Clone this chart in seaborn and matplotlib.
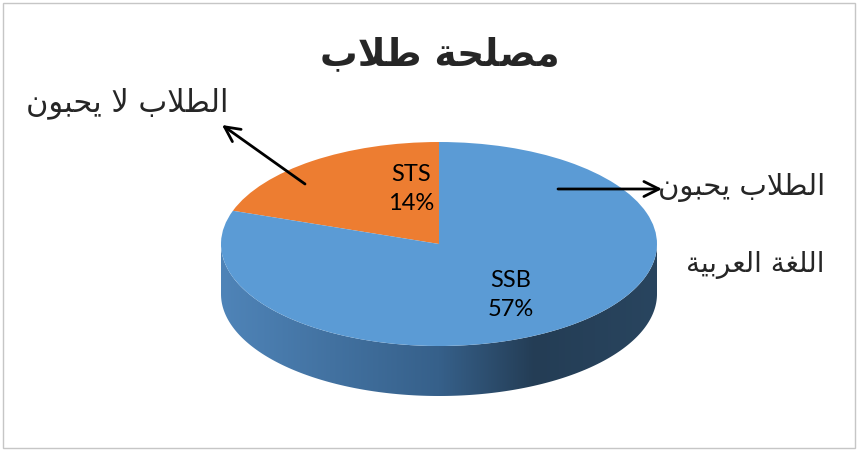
import numpy as np
import matplotlib
matplotlib.use("Agg")
import matplotlib.pyplot as plt
import seaborn as sns
from matplotlib.patches import Polygon, Rectangle
from matplotlib.colors import LinearSegmentedColormap

# ---------------- data ----------------
categories = ["STS", "SSB"]
values = [14, 57]
pct_labels = ["14%", "57%"]
title_text = "مصلحة طلاب"
left_note = "الطلاب لا يحبون"
right_note_1 = "الطلاب يحبون"
right_note_2 = "اللغة العربية"

# ---------------- minimal Arabic shaping (presentation forms) ----------------
FORMS = {
    'ا': ('\uFE8D', '\uFE8E', None, None),
    'ب': ('\uFE8F', '\uFE90', '\uFE91', '\uFE92'),
    'ة': ('\uFE93', '\uFE94', None, None),
    'ح': ('\uFEA1', '\uFEA2', '\uFEA3', '\uFEA4'),
    'ر': ('\uFEAD', '\uFEAE', None, None),
    'ص': ('\uFEB9', '\uFEBA', '\uFEBB', '\uFEBC'),
    'ط': ('\uFEC1', '\uFEC2', '\uFEC3', '\uFEC4'),
    'ع': ('\uFEC9', '\uFECA', '\uFECB', '\uFECC'),
    'غ': ('\uFECD', '\uFECE', '\uFECF', '\uFED0'),
    'ل': ('\uFEDD', '\uFEDE', '\uFEDF', '\uFEE0'),
    'م': ('\uFEE1', '\uFEE2', '\uFEE3', '\uFEE4'),
    'ن': ('\uFEE5', '\uFEE6', '\uFEE7', '\uFEE8'),
    'و': ('\uFEED', '\uFEEE', None, None),
    'ي': ('\uFEF1', '\uFEF2', '\uFEF3', '\uFEF4'),
    'لا': ('\uFEFB', '\uFEFC', None, None),
}


def shape(s):
    toks = []
    i = 0
    while i < len(s):
        if s[i] == 'ل' and i + 1 < len(s) and s[i + 1] == 'ا':
            toks.append('لا')
            i += 2
        else:
            toks.append(s[i])
            i += 1
    out = []
    for k, t in enumerate(toks):
        if t not in FORMS:
            out.append(t)
            continue
        prev = toks[k - 1] if k > 0 else None
        nxt = toks[k + 1] if k + 1 < len(toks) else None
        jp = prev in FORMS and FORMS[prev][2] is not None
        jn = FORMS[t][2] is not None and nxt in FORMS
        iso, fin, ini, med = FORMS[t]
        if jp and jn:
            out.append(med)
        elif jp:
            out.append(fin)
        elif jn:
            out.append(ini)
        else:
            out.append(iso)
    return ''.join(out[::-1])


# ---------------- figure ----------------
sns.set_theme(style="white")
plt.rcParams['font.family'] = ['DejaVu Sans']

W, H = 860, 452
fig = plt.figure(figsize=(W / 100, H / 100), dpi=100)
fig.patch.set_facecolor("white")
ax = fig.add_axes([0, 0, 1, 1])

palette = sns.color_palette(["#ED7D31", "#5B9BD5"])

# pixel geometry of the ellipse (used only for the axes scale)
cx, cy, rx, ry, depth = 439, 245, 218, 102, 50
d = depth / ry

# side (extrusion) of the 3D pie
t = np.linspace(np.pi, 2 * np.pi, 200)
top_edge = np.column_stack([np.cos(t), np.sin(t)])
bot_edge = np.column_stack([np.cos(t[::-1]), np.sin(t[::-1]) - d])
side = Polygon(np.vstack([top_edge, bot_edge]), closed=True,
               facecolor="none", edgecolor="none")
ax.add_patch(side)
side_cmap = LinearSegmentedColormap.from_list(
    "side", [(0.0, "#4F84B8"), (0.5, "#36608A"), (0.72, "#243D55"), (1.0, "#29455F")])
grad = np.linspace(0, 1, 256).reshape(1, -1)
im = ax.imshow(grad, cmap=side_cmap, extent=[-1, 1, -1 - d, 0.05],
               aspect="auto", zorder=1, interpolation="bicubic")
im.set_clip_path(side)

wedges, _ = ax.pie(values, colors=palette, startangle=90, counterclock=True,
                   radius=1, center=(0, 0),
                   wedgeprops=dict(linewidth=0, zorder=2))
for w in wedges:
    w.set_zorder(2)

ax.set_aspect("auto")
ax.set_xlim(-cx / rx, (W - cx) / rx)
ax.set_ylim(-(H - cy) / ry, cy / ry)
ax.axis("off")

# slice labels
lab_font = dict(family=["Lato", "DejaVu Sans"], fontsize=17, color="black",
                ha="center", va="center", linespacing=1.45)
ax.text(-0.13, 0.55, f"{categories[0]}\n{pct_labels[0]}", **lab_font, zorder=5)
ax.text(0.33, -0.49, f"{categories[1]}\n{pct_labels[1]}", **lab_font, zorder=5)


def fp(x, y):
    return (x, H - y)


fig.text(440 / W, 1 - 55 / H, shape(title_text), ha="center", va="center",
         fontsize=27, fontweight="bold", family=["DejaVu Sans"])
fig.text(127 / W, 1 - 103 / H, shape(left_note), ha="center", va="center",
         fontsize=22, family=["DejaVu Sans"])
fig.text(825 / W, 1 - 188 / H, shape(right_note_1), ha="right", va="center",
         fontsize=21, family=["DejaVu Sans"])
fig.text(825 / W, 1 - 265 / H, shape(right_note_2), ha="right", va="center",
         fontsize=20, family=["DejaVu Sans"])

arrow = dict(arrowstyle="->,head_length=0.9,head_width=0.45", color="black",
             lw=2, shrinkA=0, shrinkB=0)
ax.annotate("", xy=fp(222, 126), xytext=fp(305, 185),
            xycoords="figure pixels", textcoords="figure pixels",
            arrowprops=arrow, zorder=6)
ax.annotate("", xy=fp(662, 190), xytext=fp(558, 190),
            xycoords="figure pixels", textcoords="figure pixels",
            arrowprops=arrow, zorder=6)

fig.patches.append(Rectangle((3 / W, 3 / H), 852 / W, 445 / H,
                             transform=fig.transFigure, fill=False,
                             edgecolor="#C6C6C6", lw=1))

fig.savefig("out.png", dpi=100)
